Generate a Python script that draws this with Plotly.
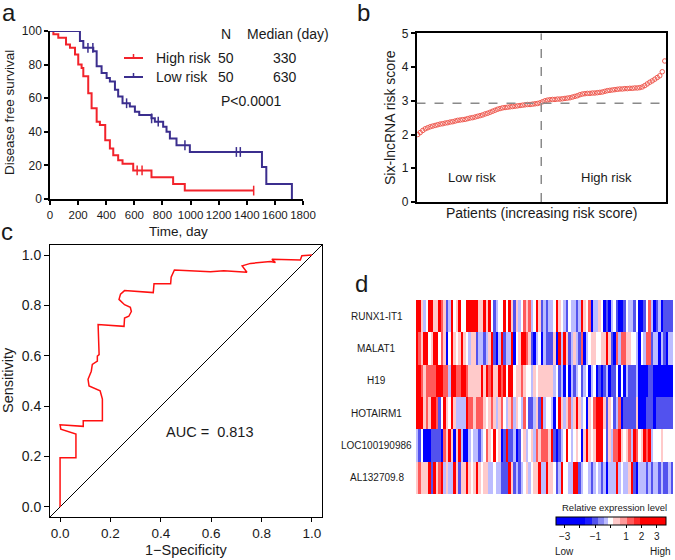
import plotly.graph_objects as go

W, H = 675, 560
FONT = "Arial, Liberation Sans, sans-serif"
INK = "#1a1a1a"

# ---------------- Panel a: Kaplan-Meier (disease free survival) ----------------
red_time = [0, 24, 59, 114, 142, 178, 201, 225, 237, 272, 296, 332, 355, 393, 426, 450, 485, 516, 592, 722, 876, 959, 1449]
red_surv = [100, 98, 96, 92, 90, 86, 80, 78, 73, 63, 54, 46, 44, 35, 30, 26, 23, 21, 17, 13, 9, 5, 5]
red_cens = [620, 655, 1449]

blue_time = [0, 213, 237, 308, 332, 367, 403, 426, 462, 485, 516, 568, 604, 635, 722, 746, 805, 829, 853, 900, 995, 1508, 1539, 1721]
blue_surv = [100, 94, 90, 88, 79, 75, 72, 70, 65, 61, 57, 55, 52, 50, 48, 46, 43, 40, 36, 32, 28, 19, 9, 0]
blue_cens = [270, 305, 545, 723, 770, 960, 1326, 1354]

km_groups = ["High risk", "Low risk"]
km_n = [50, 50]
km_median = [330, 630]
km_p = "P<0.0001"

# ---------------- Panel b: risk score per patient ----------------
risk_scores = [
    2.00, 2.06, 2.12, 2.17, 2.20, 2.23, 2.25, 2.27, 2.29, 2.31,
    2.32, 2.34, 2.35, 2.37, 2.38, 2.40, 2.42, 2.43, 2.44, 2.45,
    2.47, 2.49, 2.50, 2.52, 2.54, 2.56, 2.58, 2.61, 2.63, 2.66,
    2.69, 2.72, 2.75, 2.77, 2.79, 2.80, 2.81, 2.82, 2.83, 2.84,
    2.85, 2.86, 2.87, 2.88, 2.89, 2.89, 2.90, 2.91, 2.92, 2.94,
    2.97, 3.00, 3.02, 3.03, 3.04, 3.04, 3.05, 3.05, 3.06, 3.07,
    3.08, 3.09, 3.11, 3.13, 3.15, 3.18, 3.20, 3.21, 3.22, 3.22,
    3.23, 3.23, 3.24, 3.25, 3.26, 3.28, 3.30, 3.31, 3.32, 3.33,
    3.34, 3.35, 3.35, 3.36, 3.36, 3.37, 3.37, 3.38, 3.38, 3.39,
    3.41, 3.45, 3.50, 3.55, 3.59, 3.64, 3.69, 3.74, 3.86, 4.18,
]
risk_cutoff = 2.93

# ---------------- Panel c: ROC curve ----------------
roc_fpr = [0, 0, 0.063, 0.063, 0.003, 0, 0.092, 0.092, 0.168, 0.168, 0.159, 0.115, 0.111, 0.124,
           0.128, 0.148, 0.148, 0.155, 0.151, 0.254, 0.256, 0.273, 0.283, 0.279, 0.256, 0.234,
           0.240, 0.256, 0.370, 0.373, 0.439, 0.441, 0.454, 0.597, 0.650, 0.742, 0.723, 0.756,
           0.835, 0.855, 0.841, 0.954, 0.960, 1.0]
roc_tpr = [0, 0.195, 0.195, 0.289, 0.309, 0.326, 0.320, 0.342, 0.342, 0.428, 0.461, 0.480, 0.507, 0.539,
           0.566, 0.579, 0.599, 0.605, 0.724, 0.717, 0.750, 0.757, 0.776, 0.793, 0.803, 0.824,
           0.845, 0.859, 0.851, 0.886, 0.886, 0.912, 0.941, 0.934, 0.938, 0.932, 0.957, 0.967,
           0.974, 0.970, 0.983, 0.980, 0.997, 1.0]
auc_text = "AUC =  0.813"

# ---------------- Panel d: heatmap (level codes -3..3 per patient) ----------------
genes = ["RUNX1-IT1", "MALAT1", "H19", "HOTAIRM1", "LOC100190986", "AL132709.8"]
RUNX1_IT1 = [3,3,1,-1,0,3,3,1,1,3,2,1,-2,-1,3,0,1,3,0,0,3,3,3,3,3,1,
             1,3,1,3,0,-2,-1,0,0,3,0,3,1,-2,1,-1,0,2,1,2,-1,0,3,1,-2,-1,
             -2,-1,-1,0,3,1,0,-1,-2,0,-1,-1,-2,-1,3,1,0,2,-3,-1,-1,1,0,-3,-2,-3,
             -1,0,-2,-3,-3,-2,0,-1,-1,-2,0,-3,-3,-2,0,2,-1,-3,-2,-1,-3,-2,-2,-2,-2]
MALAT1 = [3,2,1,3,3,0,1,3,3,0,2,1,-3,0,3,1,0,1,3,1,0,-1,1,1,-2,-1,
          -1,-2,-1,1,3,-2,-3,-1,3,-2,-1,-1,3,-3,0,1,3,3,2,1,-2,-3,-1,0,-3,-1,
          -2,-2,-2,1,-3,3,-1,3,1,-2,-1,1,-1,-2,2,-3,-1,0,1,1,0,0,1,1,3,1,
          -2,-3,2,-1,2,2,1,1,0,0,-1,-3,0,-1,2,2,-2,-1,-1,-3,-1,-2,-3,-1,-1]
H19 = [3,3,2,1,2,2,2,2,3,3,3,2,2,-1,3,3,2,2,3,3,2,1,1,1,1,1,
       3,1,3,2,3,1,1,3,2,3,0,3,3,0,1,1,2,1,0,0,-1,1,0,1,1,1,
       1,1,1,-1,0,-2,-1,-3,0,-3,-1,-2,-1,0,-2,-1,0,-3,-1,0,-3,-2,-3,-2,-1,-3,
       -2,-2,0,-3,0,-3,-1,-2,-2,-2,-1,-3,-3,-3,-3,-2,-2,-3,-3,-3,-3,-3,-3,-3,-3]
HOTAIRM1 = [3,3,3,1,2,1,3,3,2,-2,0,3,1,0,3,1,-1,-1,-1,-1,3,2,2,1,2,2,
            2,1,0,1,2,1,-1,1,2,0,-1,1,2,-1,1,0,-1,2,0,-2,-2,-1,1,-2,3,-1,
            0,0,-1,-3,0,3,1,-1,1,2,-1,1,3,1,-1,0,-3,1,0,2,3,3,3,1,-2,1,
            0,-2,-1,2,-3,-2,-2,-2,-2,-2,1,-3,-3,-3,-2,-2,-2,-3,-2,-2,-2,-2,-2,-2,-2]
LOC100190986 = [-1,-2,0,-3,-3,-3,-2,-2,-2,-2,-3,2,1,3,1,-3,1,3,-1,-3,-3,-1,0,-1,-1,-2,
                -1,0,2,1,0,3,0,1,-3,-2,3,-2,-2,-1,-3,-2,0,1,-1,0,1,-1,2,1,2,2,
                2,1,3,-2,-3,-2,-1,0,3,0,-1,0,1,0,-3,1,3,1,0,1,3,3,3,0,-2,1,
                -1,2,2,3,1,0,1,2,-1,3,2,0,1,3,2,3,-1,0,0,0,1,0,0,0,0]
AL132709_8 = [1,2,1,1,1,3,-2,3,1,2,3,-1,1,-1,-1,3,1,-2,1,1,3,1,0,1,3,1,
              0,1,1,-1,-1,0,-1,-1,-2,-2,-2,3,1,-2,-1,-2,-1,0,1,-1,0,1,1,3,-1,-1,
              3,1,1,0,-2,-1,3,0,0,-1,-1,3,3,-2,-1,0,0,-1,-2,-1,0,-1,-2,-1,-3,-1,
              -1,-1,3,-1,0,-1,-1,1,3,-2,-3,-1,-1,-1,-2,-1,-2,-1,-1,-2,-1,-2,-2,-1,-2]
# expression value represented by each level code (-3..3)
level_values = [-2.5, -1.0, -0.3, 0.0, 0.4, 1.3, 2.5]

cbar_bounds = [-1.67, -1.23, -0.8, -0.43, -0.15, 0.17, 0.6, 1.08, 1.5, 1.9]
cbar_colors = ["#0000ff", "#1c1cff", "#5252ee", "#8a8af5", "#bcbcff", "#ffffff",
               "#ffcaca", "#ff9999", "#ff5a5a", "#ff2828", "#ff0000"]
cbar_tickvals = [-3, -2, -1, 0, 1, 2, 3]
cbar_ticktext = ["\u22123", "", "\u22121", "", "1", "2", "3"]
ZMIN, ZMAX = -3.56, 3.6

RED = "#f2232b"
BLUE = "#3b2e8e"
PT = "#ef5a50"


def px(x):
    return x / W


def py(y):
    return 1 - y / H


def surv_at(times, surv, t):
    val = surv[0]
    for ti, si in zip(times, surv):
        if ti <= t:
            val = si
    return val


fig = go.Figure()

# ---- panel a traces
fig.add_trace(go.Scatter(x=red_time, y=red_surv, mode="lines", line=dict(color=RED, width=2, shape="hv"),
                         xaxis="x", yaxis="y", showlegend=False, hoverinfo="skip"))
fig.add_trace(go.Scatter(x=blue_time, y=blue_surv, mode="lines", line=dict(color=BLUE, width=2, shape="hv"),
                         xaxis="x", yaxis="y", showlegend=False, hoverinfo="skip"))
fig.add_trace(go.Scatter(x=red_cens, y=[surv_at(red_time, red_surv, t) for t in red_cens], mode="markers",
                         marker=dict(symbol="line-ns", size=7, line=dict(color=RED, width=1.5)),
                         xaxis="x", yaxis="y", showlegend=False, hoverinfo="skip"))
fig.add_trace(go.Scatter(x=blue_cens, y=[surv_at(blue_time, blue_surv, t) for t in blue_cens], mode="markers",
                         marker=dict(symbol="line-ns", size=7, line=dict(color=BLUE, width=1.5)),
                         xaxis="x", yaxis="y", showlegend=False, hoverinfo="skip"))

# ---- panel b
n_pat = len(risk_scores)
pat_idx = list(range(1, n_pat + 1))
split = n_pat / 2 + 0.5
fig.add_trace(go.Scatter(x=pat_idx, y=risk_scores, mode="markers",
                         marker=dict(symbol="circle-open", size=4.5, color=PT, line=dict(color=PT, width=1)),
                         xaxis="x2", yaxis="y2", showlegend=False, hoverinfo="skip"))

# ---- panel c
CR = [-0.04, 1.04]
fig.add_trace(go.Scatter(x=CR, y=CR, mode="lines", line=dict(color="black", width=1),
                         xaxis="x3", yaxis="y3", showlegend=False, hoverinfo="skip"))
fig.add_trace(go.Scatter(x=roc_fpr, y=roc_tpr, mode="lines", line=dict(color="#ff1010", width=1.5),
                         xaxis="x3", yaxis="y3", showlegend=False, hoverinfo="skip"))

# ---- panel d
rows = [RUNX1_IT1, MALAT1, H19, HOTAIRM1, LOC100190986, AL132709_8]
ncol = min(len(r) for r in rows)
z = [[level_values[c + 3] for c in r[:ncol]] for r in rows]

span = ZMAX - ZMIN
cs = []
edges = [ZMIN] + cbar_bounds + [ZMAX]
for i, col in enumerate(cbar_colors):
    a = (edges[i] - ZMIN) / span
    b = (edges[i + 1] - ZMIN) / span
    cs.append([a, col])
    cs.append([b, col])

fig.add_trace(go.Heatmap(
    z=z, x=list(range(ncol)), y=list(range(len(rows))), zmin=ZMIN, zmax=ZMAX, colorscale=cs,
    xaxis="x4", yaxis="y4", hoverinfo="skip",
    colorbar=dict(orientation="h", x=px(611), xanchor="center", y=py(516.5), yanchor="top",
                  len=110 / W, lenmode="fraction", thickness=8, thicknessmode="pixels",
                  outlinewidth=1, outlinecolor="black", xpad=0, ypad=0,
                  tickvals=cbar_tickvals, ticktext=cbar_ticktext, ticks="outside", ticklen=3,
                  tickcolor="black", tickfont=dict(size=10, color=INK, family=FONT)),
))

base_axis = dict(showgrid=False, zeroline=False, showline=True, linecolor="black", ticks="outside",
                 tickcolor="black")


def tf(size):
    return dict(size=size, family=FONT, color=INK)


fig.update_layout(
    width=W, height=H, margin=dict(l=0, r=0, t=0, b=0, autoexpand=False),
    paper_bgcolor="white", plot_bgcolor="white",
    font=dict(family=FONT, color=INK),
    xaxis=dict(domain=[px(50), px(303)], range=[0, 1800], dtick=200, tick0=0, anchor="y",
               linewidth=1.5, ticklen=4, tickwidth=1.5, tickangle=0, tickfont=tf(11.5), **base_axis),
    yaxis=dict(domain=[py(199), py(31)], range=[0, 100], dtick=20, tick0=0, anchor="x",
               linewidth=1.5, ticklen=4, tickwidth=1.5, tickfont=tf(12), **base_axis),
    xaxis2=dict(domain=[px(416.5), px(666)], range=[0.5, n_pat + 0.5], anchor="y2", showticklabels=False,
                ticks="", showgrid=False, zeroline=False, showline=True, linecolor="black", linewidth=1.5, mirror=True),
    yaxis2=dict(domain=[py(202), py(33.3)], range=[0, 5], dtick=1, anchor="x2", mirror=True,
                linewidth=1.5, ticklen=4, tickwidth=1.5, tickfont=tf(12), **base_axis),
    xaxis3=dict(domain=[px(50), px(322)], range=CR, tickvals=[0, 0.2, 0.4, 0.6, 0.8, 1.0], tickformat=".1f",
                anchor="y3", mirror=True, linewidth=1, ticklen=4, tickwidth=1, tickfont=tf(13.5), **base_axis),
    yaxis3=dict(domain=[py(517), py(245)], range=CR, tickvals=[0, 0.2, 0.4, 0.6, 0.8, 1.0], tickformat=".1f",
                anchor="x3", mirror=True, linewidth=1, ticklen=5, tickwidth=1, tickfont=tf(14), **base_axis),
    xaxis4=dict(domain=[px(416), px(673)], range=[-0.5, ncol - 0.5], anchor="y4", visible=False),
    yaxis4=dict(domain=[py(494), py(300)], range=[len(rows) - 0.5, -0.5], anchor="x4", visible=False),
)

# dashed guide lines in panel b
fig.add_shape(type="line", xref="x2", yref="y2", x0=split, x1=split, y0=0, y1=5,
              line=dict(color="#8a8a8a", width=1.5, dash="dash"))
fig.add_shape(type="line", xref="x2", yref="y2", x0=0.5, x1=n_pat + 0.5, y0=risk_cutoff, y1=risk_cutoff,
              line=dict(color="#8a8a8a", width=1.5, dash="dash"))

# legend of panel a
for yy, col in [(58, RED), (77, BLUE)]:
    fig.add_shape(type="line", xref="paper", yref="paper", x0=px(124), x1=px(143), y0=py(yy), y1=py(yy),
                  line=dict(color=col, width=2))
    fig.add_shape(type="line", xref="paper", yref="paper", x0=px(133.5), x1=px(133.5), y0=py(yy), y1=py(yy - 4),
                  line=dict(color=col, width=1.5))


def ann(text, x, y, size, xanchor="center", angle=0, xref="paper", yref="paper", raw=False):
    fig.add_annotation(text=text, x=x if raw else px(x), y=y if raw else py(y), xref=xref, yref=yref,
                       xanchor=xanchor, yanchor="middle", showarrow=False, textangle=angle,
                       font=dict(size=size, family=FONT, color=INK))


# panel letters
ann("a", 9, 12.6, 24)
ann("b", 363, 12.6, 24)
ann("c", 7, 231.6, 24)
ann("d", 361, 283.6, 24)

# panel a texts
ann("Disease free survival", 10, 113, 13.5, angle=-90)
ann("Time, day", 178, 231, 13.5)
ann("N", 226, 34, 14)
ann("Median (day)", 288, 34, 14)
for i, yy in enumerate([58, 77]):
    ann(km_groups[i], 154, yy, 14, xanchor="left")
    ann(str(km_n[i]), 226, yy, 14)
    ann(str(km_median[i]), 285, yy, 14)
ann(km_p, 251, 101, 14)

# panel b texts
ann("Six-lncRNA risk score", 390, 117, 14, angle=-90)
ann("Patients (increasing risk score)", 541, 213, 14)
ann("Low risk", 471.7, 177, 13)
ann("High risk", 606.7, 177, 13)

# panel c texts
ann("Sensitivity", 8, 380, 14.5, angle=-90)
ann("1\u2212Specificity", 186, 550, 14.5)
ann(auc_text, 0.595, 0.297, 14.5, xref="x3", yref="y3", raw=True)

# panel d texts
for i, g in enumerate(genes):
    fig.add_annotation(text=g, x=px(376.7), y=i, xref="paper", yref="y4", showarrow=False,
                       xanchor="center", yanchor="middle", font=dict(size=10, family=FONT, color=INK))
ann("Relative expression level", 614, 507, 9.5)
ann("Low", 564, 551, 10)
ann("High", 660, 551, 10)

fig.write_html("out.html", config={"displayModeBar": False},
               post_script="document.body.style.margin='0';document.body.style.padding='0';")
